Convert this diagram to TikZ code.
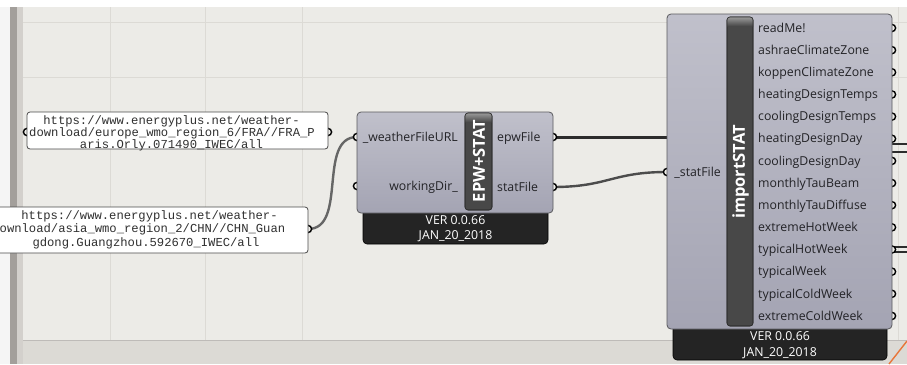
\documentclass[tikz,border=0pt]{standalone}
\usepackage{fontspec}
\setmainfont{Open Sans}
\newfontfamily\panelfont{Liberation Mono}
\definecolor{canvas}{HTML}{ECEBE7}
\definecolor{bandD}{HTML}{A39F9B}
\definecolor{bandL}{HTML}{D3D0CC}
\definecolor{bottomband}{HTML}{DCDAD5}
\definecolor{gridc}{HTML}{DCDAD5}
\definecolor{bodytop}{HTML}{C0C0CB}
\definecolor{bodybot}{HTML}{A4A4B3}
\definecolor{bodyline}{HTML}{5A5A5E}
\definecolor{bar}{HTML}{484848}
\definecolor{barhi}{HTML}{9A9A9A}
\definecolor{barline}{HTML}{2E2E2E}
\definecolor{foot}{HTML}{242424}
\definecolor{txt}{HTML}{222226}
\definecolor{ptext}{HTML}{303030}
\definecolor{panelline}{HTML}{4A4A4A}
\definecolor{wireDc}{HTML}{2C2C2C}
\definecolor{wireGc}{HTML}{666666}
\definecolor{orangeW}{HTML}{E8763A}
\tikzset{
  cbody/.style={draw=bodyline, line width=0.8pt, rounded corners=4pt, top color=bodytop, bottom color=bodybot, inner sep=0pt, outer sep=0pt},
  cfoot/.style={fill=foot, draw=black, line width=0.6pt, rounded corners=4pt, inner sep=0pt, outer sep=0pt},
  cbar/.style={fill=bar, draw=barline, line width=0.6pt, rounded corners=3pt, inner sep=0pt, outer sep=0pt},
  lbl/.style={text=txt, font=\fontsize{12.3}{14}\selectfont, inner sep=0pt},
  ftxt/.style={text=white, font=\fontsize{12.3}{14}\selectfont, inner sep=0pt, anchor=base},
  bartxt/.style={text=white, font=\bfseries\fontsize{16.5}{18}\selectfont, rotate=90, inner sep=0pt},
  panelbox/.style={draw=panelline, fill=white, line width=0.8pt, rounded corners=3pt, inner sep=0pt, outer sep=0pt},
  ptxt/.style={font=\panelfont\fontsize{12.2}{12.5}\selectfont, text=ptext, inner sep=0pt, anchor=base},
  grip/.style={draw=black, fill=canvas, line width=1.4pt},
  wired/.style={draw=wireDc, line width=3pt},
  wireg/.style={draw=wireGc, line width=2.4pt},
  stub/.style={draw=wireDc, line width=1.3pt},
}
\begin{document}
\begin{tikzpicture}[x=1pt,y=-1pt]
\useasboundingbox (0,0) rectangle (907,364);
\clip (0,0) rectangle (907,364);
% background
\fill[canvas] (0,0) rectangle (907,364);
\fill[bottomband] (0,340) rectangle (907,364);
\fill[white] (0,0) rectangle (907,7);
\fill[white!96!black] (0,7) rectangle (10,364);
\fill[bandD] (10,7) rectangle (17,364);
\fill[bandL] (17,7) rectangle (23,364);
\foreach \gx in {110,205,302,898} \draw[gridc, line width=0.8pt] (\gx,7) -- (\gx,364);
\foreach \gy in {22,77} \draw[gridc, line width=0.8pt] (23,\gy) -- (907,\gy);
\draw[bandL!90!black, line width=0.8pt] (23,340) -- (907,340);

% grip coordinates
\coordinate (p1in) at (27,132);
\coordinate (p1out) at (328,132);
\coordinate (p2out) at (308,229);
\coordinate (wurl) at (357,137);
\coordinate (wdir) at (357,186);
\coordinate (epwout) at (553,137);
\coordinate (statout) at (553,187);
\coordinate (statin) at (667,172);
\coordinate (epwhid) at (667,137);
\coordinate (ra1) at (892,144); \coordinate (rb1) at (907,144);
\coordinate (ra2) at (892,152); \coordinate (rb2) at (907,152);
\coordinate (ra3) at (892,247); \coordinate (rb3) at (907,247);
\coordinate (ra4) at (892,252); \coordinate (rb4) at (907,252);
\coordinate (oa) at (889,364); \coordinate (ob) at (907,341);

% wires
\draw[wireg] (p2out) .. controls +(40,0) and +(-40,0) .. (wurl);
\draw[wired] (epwout) -- (epwhid);
\draw[wireg, draw=wireDc!85!white] (statout) .. controls +(55,0) and +(-55,0) .. (statin);
\draw[stub] (ra1) -- (rb1);
\draw[stub] (ra2) -- (rb2);
\draw[stub] (ra3) -- (rb3);
\draw[stub] (ra4) -- (rb4);
\draw[orangeW, line width=1.4pt] (oa) -- (ob);

% grips
\foreach \g in {p1in,p1out,p2out,wurl,wdir,epwout,statout,statin} \draw[grip] (\g) circle (3.6);
\foreach \i in {0,...,13} {
  \pgfmathsetmacro\yy{28+22.15*\i}
  \draw[grip] (892,\yy) circle (3.6);
}

% panels
\node[panelbox, minimum width=301pt, minimum height=37pt] (panelA) at (177.5,130.5) {};
\node[ptxt] (pa1) at (171.5,124) {https://www.energyplus.net/weather-};
\node[ptxt] (pa2) at (172,136.5) {download/europe\_wmo\_region\_6/FRA//FRA\_P};
\node[ptxt] (pa3) at (171.5,148) {aris.Orly.071490\_IWEC/all};

\node[panelbox, minimum width=316pt, minimum height=46pt] (panelB) at (150,230) {};
\node[ptxt] (pb1) at (149.5,219) {https://www.energyplus.net/weather-};
\node[ptxt, anchor=base west] (pb2) at (-0.5,232.5) {ownload/asia\_wmo\_region\_2/CHN//CHN\_Guan};
\node[ptxt] (pb3) at (146,246) {gdong.Guangzhou.592670\_IWEC/all};

% EPW+STAT component
\node[cfoot, minimum width=185pt, minimum height=38pt] (epwfoot) at (455.5,225) {};
\node[cbody, minimum width=196pt, minimum height=101pt] (epwbody) at (455,162.5) {};
\node[cbar, minimum width=27pt, minimum height=97pt] (epwbar) at (478.5,161.5) {};
\begin{scope}
  \clip[rounded corners=3pt] (epwbar.north west) rectangle (epwbar.south east);
  \shade[top color=barhi, bottom color=bar] (epwbar.north west) rectangle ([yshift=-9pt]epwbar.north east);
\end{scope}
\draw[barline, line width=0.6pt, rounded corners=3pt] (epwbar.north west) rectangle (epwbar.south east);
\node[bartxt] (epwname) at (479,161) {EPW+STAT};
\node[lbl, anchor=base east] (lwurl) at (458,141) {\_weatherFileURL};
\node[lbl, anchor=base east] (lwdir) at (458,190) {workingDir\_};
\node[lbl, anchor=base west] (lepw) at (497,141) {epwFile};
\node[lbl, anchor=base west] (lstat) at (497,191) {statFile};
\node[ftxt] (epwv) at (455.5,224.5) {VER 0.0.66};
\node[ftxt] (epwd) at (455.5,239.5) {JAN\_20\_2018};

% importSTAT component
\node[cfoot, minimum width=214pt, minimum height=38pt] (isfoot) at (780,341) {};
\node[cbody, minimum width=225pt, minimum height=315pt] (isbody) at (779.5,171.5) {};
\node[cbar, minimum width=26pt, minimum height=309pt] (isbar) at (740,171.5) {};
\begin{scope}
  \clip[rounded corners=3pt] (isbar.north west) rectangle (isbar.south east);
  \shade[top color=barhi, bottom color=bar] (isbar.north west) rectangle ([yshift=-9pt]isbar.north east);
\end{scope}
\draw[barline, line width=0.6pt, rounded corners=3pt] (isbar.north west) rectangle (isbar.south east);
\node[bartxt] (isname) at (740.5,172) {importSTAT};
\node[lbl, anchor=base east] (lstatin) at (721,176) {\_statFile};
\foreach \n [count=\i from 0] in {readMe!,ashraeClimateZone,koppenClimateZone,heatingDesignTemps,coolingDesignTemps,heatingDesignDay,coolingDesignDay,monthlyTauBeam,monthlyTauDiffuse,extremeHotWeek,typicalHotWeek,typicalWeek,typicalColdWeek,extremeColdWeek} {
  \pgfmathsetmacro\yy{28+22.15*\i+4.2}
  \node[lbl, anchor=base west] (out\i) at (758,\yy) {\n};
}
\node[ftxt] (isv) at (780,340.5) {VER 0.0.66};
\node[ftxt] (isd) at (780,356) {JAN\_20\_2018};
\end{tikzpicture}
\end{document}
